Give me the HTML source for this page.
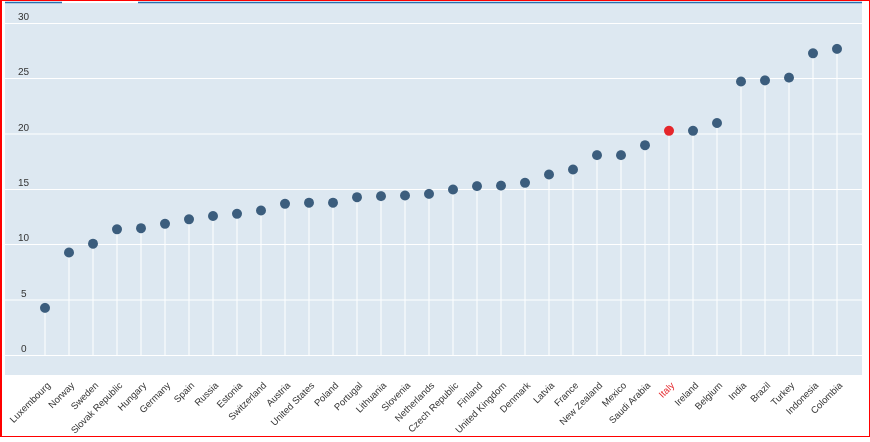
<!DOCTYPE html>
<html><head><style>
html,body{margin:0;padding:0;background:#fff}
body{width:870px;height:437px;overflow:hidden}
.s{stroke:#fff;stroke-width:1}
.d{fill:#3b5d7d}
.l{font-size:9.5px;fill:#333;text-anchor:end}
</style></head><body>
<svg width="870" height="437" xmlns="http://www.w3.org/2000/svg" font-family="'Liberation Sans',sans-serif">
<rect x="0" y="0" width="870" height="437" fill="#fff"/>
<rect x="5" y="3" width="857" height="372" fill="#dde8f1"/>
<line x1="5" y1="2.5" x2="62" y2="2.5" stroke="#2a6fb0" stroke-width="1.5"/>
<line x1="138" y1="2.5" x2="862" y2="2.5" stroke="#2a6fb0" stroke-width="1.5"/>
<g stroke="#fff" stroke-width="1">
<line x1="5" x2="862" y1="23.5" y2="23.5"/>
<line x1="5" x2="862" y1="78.5" y2="78.5"/>
<line x1="5" x2="862" y1="134" y2="134"/>
<line x1="5" x2="862" y1="189.5" y2="189.5"/>
<line x1="5" x2="862" y1="244.5" y2="244.5"/>
<line x1="5" x2="862" y1="300" y2="300"/>
<line x1="5" x2="862" y1="355.5" y2="355.5"/>
</g>
<g font-size="10" fill="#333">
<text x="18" y="20">30</text><text x="18" y="75">25</text><text x="18" y="131">20</text>
<text x="18" y="186">15</text><text x="18" y="241">10</text><text x="21" y="297">5</text><text x="21" y="352">0</text>
</g>
<g class="s">
<line x1="45" x2="45" y1="307.9" y2="355.5"/>
<line x1="69" x2="69" y1="252.5" y2="355.5"/>
<line x1="93" x2="93" y1="243.7" y2="355.5"/>
<line x1="117" x2="117" y1="229.3" y2="355.5"/>
<line x1="141" x2="141" y1="228.2" y2="355.5"/>
<line x1="165" x2="165" y1="223.8" y2="355.5"/>
<line x1="189" x2="189" y1="219.3" y2="355.5"/>
<line x1="213" x2="213" y1="216" y2="355.5"/>
<line x1="237" x2="237" y1="213.8" y2="355.5"/>
<line x1="261" x2="261" y1="210.5" y2="355.5"/>
<line x1="285" x2="285" y1="203.8" y2="355.5"/>
<line x1="309" x2="309" y1="202.7" y2="355.5"/>
<line x1="333" x2="333" y1="202.7" y2="355.5"/>
<line x1="357" x2="357" y1="197.2" y2="355.5"/>
<line x1="381" x2="381" y1="196.1" y2="355.5"/>
<line x1="405" x2="405" y1="195.5" y2="355.5"/>
<line x1="429" x2="429" y1="193.9" y2="355.5"/>
<line x1="453" x2="453" y1="189.5" y2="355.5"/>
<line x1="477" x2="477" y1="186.1" y2="355.5"/>
<line x1="501" x2="501" y1="185.6" y2="355.5"/>
<line x1="525" x2="525" y1="182.8" y2="355.5"/>
<line x1="549" x2="549" y1="174.5" y2="355.5"/>
<line x1="573" x2="573" y1="169.5" y2="355.5"/>
<line x1="597" x2="597" y1="155.1" y2="355.5"/>
<line x1="621" x2="621" y1="155.1" y2="355.5"/>
<line x1="645" x2="645" y1="145.2" y2="355.5"/>
<line x1="669" x2="669" y1="130.8" y2="355.5"/>
<line x1="693" x2="693" y1="130.8" y2="355.5"/>
<line x1="717" x2="717" y1="123" y2="355.5"/>
<line x1="741" x2="741" y1="81.5" y2="355.5"/>
<line x1="765" x2="765" y1="80.4" y2="355.5"/>
<line x1="789" x2="789" y1="77.6" y2="355.5"/>
<line x1="813" x2="813" y1="53.3" y2="355.5"/>
<line x1="837" x2="837" y1="48.9" y2="355.5"/>
</g>
<g class="d">
<circle cx="45" cy="307.9" r="5"/>
<circle cx="69" cy="252.5" r="5"/>
<circle cx="93" cy="243.7" r="5"/>
<circle cx="117" cy="229.3" r="5"/>
<circle cx="141" cy="228.2" r="5"/>
<circle cx="165" cy="223.8" r="5"/>
<circle cx="189" cy="219.3" r="5"/>
<circle cx="213" cy="216" r="5"/>
<circle cx="237" cy="213.8" r="5"/>
<circle cx="261" cy="210.5" r="5"/>
<circle cx="285" cy="203.8" r="5"/>
<circle cx="309" cy="202.7" r="5"/>
<circle cx="333" cy="202.7" r="5"/>
<circle cx="357" cy="197.2" r="5"/>
<circle cx="381" cy="196.1" r="5"/>
<circle cx="405" cy="195.5" r="5"/>
<circle cx="429" cy="193.9" r="5"/>
<circle cx="453" cy="189.5" r="5"/>
<circle cx="477" cy="186.1" r="5"/>
<circle cx="501" cy="185.6" r="5"/>
<circle cx="525" cy="182.8" r="5"/>
<circle cx="549" cy="174.5" r="5"/>
<circle cx="573" cy="169.5" r="5"/>
<circle cx="597" cy="155.1" r="5"/>
<circle cx="621" cy="155.1" r="5"/>
<circle cx="645" cy="145.2" r="5"/>
<circle cx="669" cy="130.8" r="5" fill="#e5262b"/>
<circle cx="693" cy="130.8" r="5"/>
<circle cx="717" cy="123" r="5"/>
<circle cx="741" cy="81.5" r="5"/>
<circle cx="765" cy="80.4" r="5"/>
<circle cx="789" cy="77.6" r="5"/>
<circle cx="813" cy="53.3" r="5"/>
<circle cx="837" cy="48.9" r="5"/>
</g>
<g class="l">
<text transform="translate(51,386) rotate(-45)">Luxembourg</text>
<text transform="translate(75,386) rotate(-45)">Norway</text>
<text transform="translate(99,386) rotate(-45)">Sweden</text>
<text transform="translate(123,386) rotate(-45)">Slovak Republic</text>
<text transform="translate(147,386) rotate(-45)">Hungary</text>
<text transform="translate(171,386) rotate(-45)">Germany</text>
<text transform="translate(195,386) rotate(-45)">Spain</text>
<text transform="translate(219,386) rotate(-45)">Russia</text>
<text transform="translate(243,386) rotate(-45)">Estonia</text>
<text transform="translate(267,386) rotate(-45)">Switzerland</text>
<text transform="translate(291,386) rotate(-45)">Austria</text>
<text transform="translate(315,386) rotate(-45)">United States</text>
<text transform="translate(339,386) rotate(-45)">Poland</text>
<text transform="translate(363,386) rotate(-45)">Portugal</text>
<text transform="translate(387,386) rotate(-45)">Lithuania</text>
<text transform="translate(411,386) rotate(-45)">Slovenia</text>
<text transform="translate(435,386) rotate(-45)">Netherlands</text>
<text transform="translate(459,386) rotate(-45)">Czech Republic</text>
<text transform="translate(483,386) rotate(-45)">Finland</text>
<text transform="translate(507,386) rotate(-45)">United Kingdom</text>
<text transform="translate(531,386) rotate(-45)">Denmark</text>
<text transform="translate(555,386) rotate(-45)">Latvia</text>
<text transform="translate(579,386) rotate(-45)">France</text>
<text transform="translate(603,386) rotate(-45)">New Zealand</text>
<text transform="translate(627,386) rotate(-45)">Mexico</text>
<text transform="translate(651,386) rotate(-45)">Saudi Arabia</text>
<text transform="translate(675,386) rotate(-45)" fill="#e5262b">Italy</text>
<text transform="translate(699,386) rotate(-45)">Ireland</text>
<text transform="translate(723,386) rotate(-45)">Belgium</text>
<text transform="translate(747,386) rotate(-45)">India</text>
<text transform="translate(771,386) rotate(-45)">Brazil</text>
<text transform="translate(795,386) rotate(-45)">Turkey</text>
<text transform="translate(819,386) rotate(-45)">Indonesia</text>
<text transform="translate(843,386) rotate(-45)">Colombia</text>
</g>
<rect x="0.5" y="0.5" width="869" height="436" fill="none" stroke="#f00" stroke-width="1"/>
<line x1="1" y1="0" x2="1" y2="437" stroke="#f00" stroke-width="2"/>
</svg>
</body></html>
